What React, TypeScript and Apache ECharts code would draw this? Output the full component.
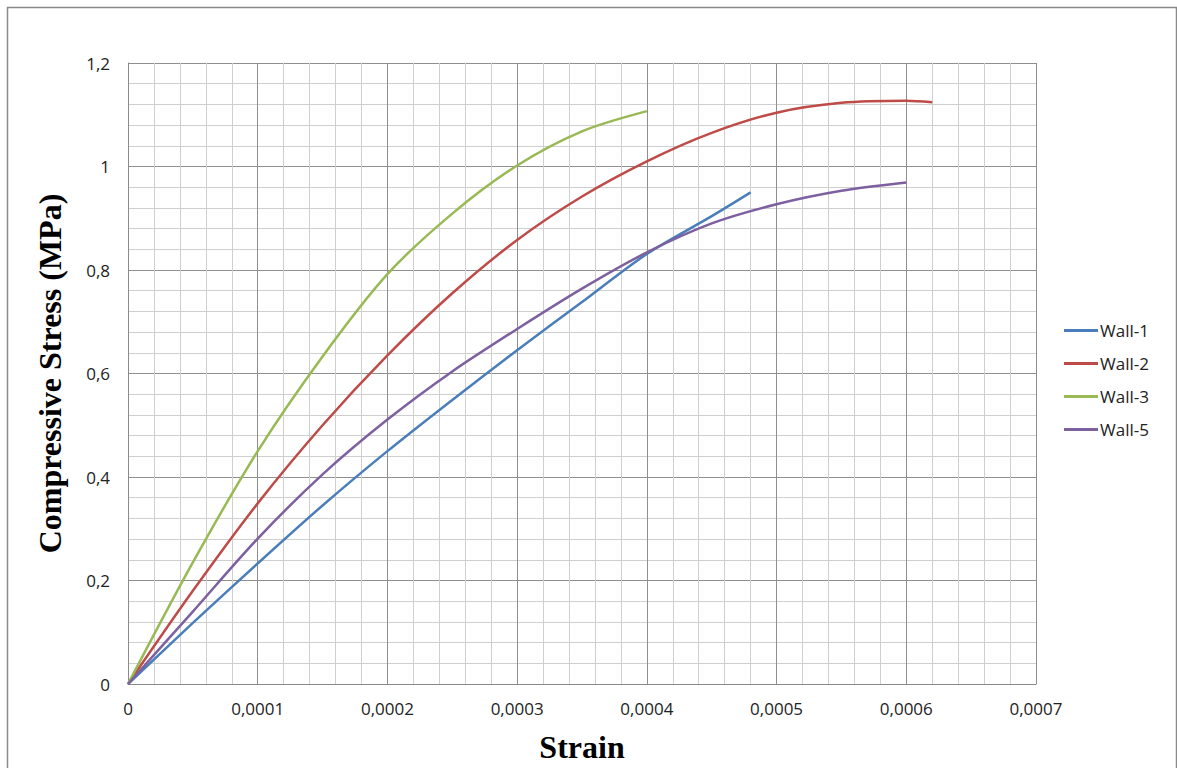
import React, { useEffect, useRef } from "react";
import * as echarts from "echarts";

const seriesNames = ["Wall-1", "Wall-2", "Wall-3", "Wall-5"];
const seriesColors = ["#4a7ebb", "#be4b48", "#98b954", "#7d60a0"];

const wall1Strain = [0, 0.00005, 0.0001, 0.00015, 0.0002, 0.00025, 0.0003, 0.00035, 0.0004, 0.00045, 0.00048];
const wall1Stress = [0, 0.118, 0.233, 0.345, 0.45, 0.549, 0.645, 0.738, 0.831, 0.904, 0.95];

const wall2Strain = [0, 0.00005, 0.0001, 0.00015, 0.0002, 0.00025, 0.0003, 0.00035, 0.0004, 0.00045, 0.0005, 0.00055, 0.0006, 0.00062];
const wall2Stress = [0, 0.18, 0.349, 0.5, 0.635, 0.755, 0.858, 0.942, 1.01, 1.065, 1.104, 1.123, 1.127, 1.124];

const wall3Strain = [0, 0.00005, 0.0001, 0.00015, 0.0002, 0.00025, 0.0003, 0.00035, 0.0004];
const wall3Stress = [0, 0.235, 0.45, 0.633, 0.792, 0.909, 1.002, 1.068, 1.107];

const wall5Strain = [0, 0.00005, 0.0001, 0.00015, 0.0002, 0.00025, 0.0003, 0.00035, 0.0004, 0.00045, 0.0005, 0.00055, 0.0006];
const wall5Stress = [0, 0.14, 0.281, 0.405, 0.511, 0.604, 0.686, 0.764, 0.834, 0.89, 0.927, 0.953, 0.969];

const xTicks = { min: 0, max: 0.0007, interval: 0.0001 };
const yTicks = { min: 0, max: 1.2, interval: 0.2 };

const zip = (xs: number[], ys: number[]) => xs.map((x, i) => [x, ys[i]]);

export default function App() {
  const ref = useRef<HTMLDivElement>(null);
  useEffect(() => {
    document.body.style.margin = "0";
    const chart = echarts.init(ref.current!, null, { renderer: "svg" });
    const datasets = [
      zip(wall1Strain, wall1Stress),
      zip(wall2Strain, wall2Stress),
      zip(wall3Strain, wall3Stress),
      zip(wall5Strain, wall5Stress),
    ];
    const labelFont = "'Open Sans', 'Liberation Sans', sans-serif";
    chart.setOption({
      animation: false,
      backgroundColor: "#ffffff",
      graphic: [
        {
          type: "rect",
          shape: { x: 7.5, y: 7.5, width: 1169, height: 780 },
          style: { fill: "none", stroke: "#8a8a8a", lineWidth: 1.5 },
          silent: true,
        },
      ],
      grid: { left: 128, right: 141, top: 63, bottom: 82, containLabel: false },
      legend: {
        orient: "vertical",
        left: 1064,
        top: 322,
        padding: 0,
        icon: "rect",
        itemWidth: 34,
        itemHeight: 3,
        itemGap: 16,
        data: seriesNames,
        textStyle: { fontFamily: labelFont, fontSize: 17, lineHeight: 17, color: "#222", padding: [0, 0, 0, -3] },
      },
      xAxis: {
        type: "value",
        min: xTicks.min,
        max: xTicks.max,
        interval: xTicks.interval,
        name: "Strain",
        nameLocation: "middle",
        nameGap: 47,
        nameTextStyle: { fontFamily: "'Liberation Serif', serif", fontWeight: "bold", fontSize: 32, color: "#000" },
        axisLine: { show: true, lineStyle: { color: "#8a8a8a", width: 1 } },
        axisTick: { show: false },
        axisLabel: {
          margin: 16,
          fontFamily: labelFont,
          fontSize: 17,
          color: "#222",
          formatter: (v: number) => (v === 0 ? "0" : v.toFixed(4).replace(".", ",")),
        },
        splitLine: { show: true, lineStyle: { color: "#8e8e8e", width: 1 } },
        minorTick: { show: false, splitNumber: 5 },
        minorSplitLine: { show: true, lineStyle: { color: "#cfcfcf", width: 1 } },
      },
      yAxis: {
        type: "value",
        min: yTicks.min,
        max: yTicks.max,
        interval: yTicks.interval,
        name: "Compressive Stress (MPa)",
        nameLocation: "middle",
        nameGap: 62,
        nameTextStyle: { fontFamily: "'Liberation Serif', serif", fontWeight: "bold", fontSize: 32, color: "#000" },
        axisLine: { show: true, lineStyle: { color: "#8a8a8a", width: 1 } },
        axisTick: { show: false },
        axisLabel: {
          margin: 18,
          fontFamily: labelFont,
          fontSize: 17,
          color: "#222",
          formatter: (v: number) => String(Math.round(v * 10) / 10).replace(".", ","),
        },
        splitLine: { show: true, lineStyle: { color: "#8e8e8e", width: 1 } },
        minorTick: { show: false, splitNumber: 5 },
        minorSplitLine: { show: true, lineStyle: { color: "#cfcfcf", width: 1 } },
      },
      series: seriesNames.map((name, i) => ({
        name,
        type: "line",
        data: datasets[i],
        smooth: 0.3,
        showSymbol: false,
        symbol: "none",
        color: seriesColors[i],
        lineStyle: { color: seriesColors[i], width: 2.5 },
      })),
    });
    return () => chart.dispose();
  }, []);
  return <div ref={ref} style={{ width: 1177, height: 768 }} />;
}
